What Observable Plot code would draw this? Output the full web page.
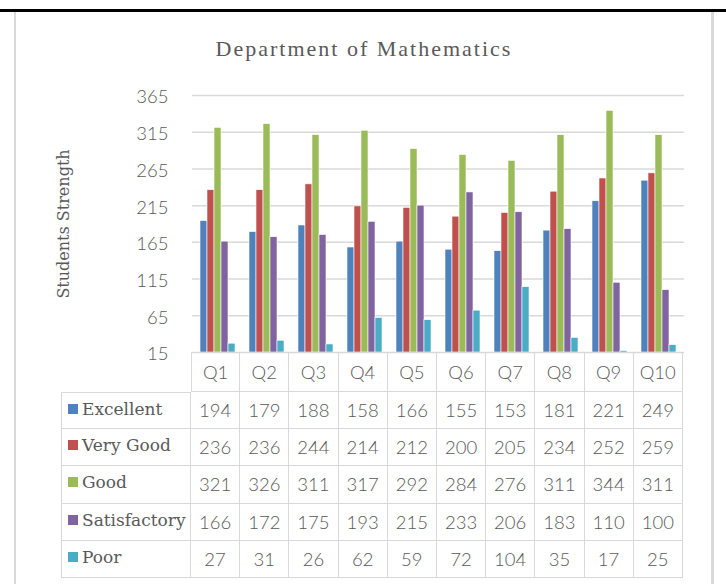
<!DOCTYPE html>
<html><head><meta charset="utf-8">
<script src="https://cdn.jsdelivr.net/npm/d3@7"></script>
<script src="https://cdn.jsdelivr.net/npm/@observablehq/plot@0.6"></script>
<style>
html,body{margin:0;padding:0;background:#fff;width:726px;height:584px;overflow:hidden;position:relative;}
#topline{position:absolute;left:0;top:9px;width:726px;height:3px;background:#000;}
#frame{position:absolute;left:14px;top:12px;width:695px;height:600px;border-left:2px solid #d9d9d9;border-right:3px solid #d9d9d9;pointer-events:none;z-index:3;}
#title{position:absolute;left:0;top:38px;width:728px;text-align:center;font-family:"Liberation Serif",serif;font-size:22px;line-height:22px;letter-spacing:2px;color:#595959;}
.layer{position:absolute;left:0;top:80px;}
.layer svg{background:transparent;overflow:visible;}
#grid [aria-label="y-axis label"] text{font-family:"DejaVu Serif",serif;font-size:16px;font-weight:400;}
#table{position:absolute;left:61px;top:352px;display:grid;grid-template-columns:130px repeat(10,49.2px);grid-template-rows:40px repeat(5,37.2px);}
.c{box-sizing:border-box;border-right:1px solid #d9d9d9;border-bottom:1px solid #d9d9d9;display:flex;align-items:center;justify-content:center;font-family:Lato,sans-serif;font-weight:300;font-size:18.5px;color:#595959;white-space:nowrap;}
.hd{border-top:1px solid #d9d9d9;}
.first{border-left:1px solid #d9d9d9;}
.corner{border:none;}
.lab{justify-content:flex-start;padding-left:6px;padding-bottom:4px;font-family:"DejaVu Serif",serif;font-size:17px;font-weight:400;}
.sw{width:10px;height:10px;margin-right:4px;flex:none;}
</style>
</head><body>
<div id="topline"></div>
<div id="frame"></div>
<div id="title"></div>
<div id="grid" class="layer"></div>
<div id="bars" class="layer"></div>
<div id="table"></div>
<script>
const title = "Department of Mathematics";
const yLabel = "Students Strength";
const quarters = ["Q1","Q2","Q3","Q4","Q5","Q6","Q7","Q8","Q9","Q10"];
const seriesNames = ["Excellent","Very Good","Good","Satisfactory","Poor"];
const excellent = [194,179,188,158,166,155,153,181,221,249];
const veryGood = [236,236,244,214,212,200,205,234,252,259];
const good = [321,326,311,317,292,284,276,311,344,311];
const satisfactory = [166,172,175,193,215,233,206,183,110,100];
const poor = [27,31,26,62,59,72,104,35,17,25];
const seriesColors = ["#4F81BD","#C0504D","#9BBB59","#8064A2","#4BACC6"];
const yTicks = [15,65,115,165,215,265,315,365];

const seriesValues = [excellent, veryGood, good, satisfactory, poor];
const yMin = yTicks[0], yMax = yTicks[yTicks.length - 1];

const rows = [];
seriesNames.forEach((s, i) => quarters.forEach((q, j) => rows.push({series: s, q, value: seriesValues[i][j]})));

document.getElementById("title").textContent = title;

const frameOpts = {
  width: 726,
  height: 272,
  marginLeft: 192,
  marginRight: 42,
  marginTop: 15,
  marginBottom: 0,
  style: {background: "transparent", overflow: "visible"}
};

// background layer: gridlines + y axis (shared y scale definition)
const gridPlot = Plot.plot({
  ...frameOpts,
  y: {domain: [yMin, yMax]},
  marks: [
    Plot.ruleY(yTicks, {stroke: "#d9d9d9", strokeWidth: 1.5}),
    Plot.axisY(yTicks, {
      tickSize: 0,
      tickPadding: 24,
      dy: 2,
      fontSize: 18.5,
      fontFamily: "Lato, sans-serif",
      fontWeight: 300,
      fill: "#595959",
      label: yLabel,
      labelAnchor: "center",
      labelArrow: "none",
      labelOffset: 135
    })
  ]
});
document.getElementById("grid").appendChild(gridPlot);

// foreground layer: grouped bars
const barPlot = Plot.plot({
  ...frameOpts,
  fx: {domain: quarters, paddingInner: 0.2, paddingOuter: 0.1, axis: null, label: null},
  x: {domain: seriesNames, padding: 0, axis: null},
  y: {domain: [yMin, yMax], axis: null},
  color: {domain: seriesNames, range: seriesColors},
  marks: [
    Plot.barY(rows, {fx: "q", x: "series", y1: yMin, y2: "value", fill: "series", stroke: "white", strokeWidth: 0.6})
  ]
});
document.getElementById("bars").appendChild(barPlot);

// data table below the chart
const table = document.getElementById("table");
function cell(cls, content) {
  const d = document.createElement("div");
  d.className = "c " + cls;
  if (typeof content === "string") d.textContent = content;
  table.appendChild(d);
  return d;
}
cell("corner", "");
quarters.forEach((q, j) => cell("hd" + (j === 0 ? " first" : ""), q));
seriesNames.forEach((s, i) => {
  const d = cell("lab first" + (i === 0 ? " hd" : ""), null);
  const sw = document.createElement("span");
  sw.className = "sw";
  sw.style.background = seriesColors[i];
  d.appendChild(sw);
  d.appendChild(document.createTextNode(s));
  seriesValues[i].forEach(v => cell("", String(v)));
});
</script>
</body></html>
